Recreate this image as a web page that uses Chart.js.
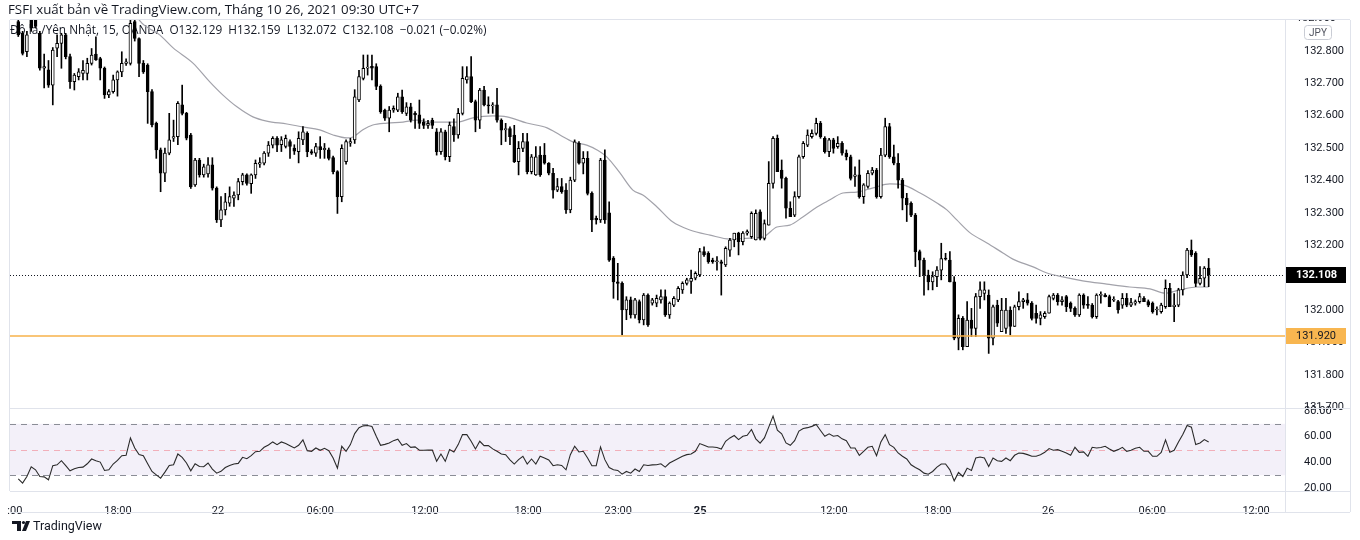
<!DOCTYPE html>
<html>
<head>
<meta charset="utf-8">
<script src="https://cdn.jsdelivr.net/npm/chart.js@4.4.1/dist/chart.umd.min.js"></script>
<style>
  html, body { margin: 0; padding: 0; background: #ffffff; }
  canvas { display: block; }
</style>
</head>
<body>
<canvas id="chart" width="1360" height="540"></canvas>
<script>
// USD/JPY 15 min candles (index 0 = first candle on the left)
const opens = [
  132.890,132.854,132.797,132.900,132.910,132.854,132.746,132.741,132.694,132.808,
  132.823,132.849,132.782,132.705,132.720,132.730,132.730,132.761,132.790,132.776,
  132.746,132.664,132.674,132.710,132.735,132.761,132.761,132.890,132.838,132.761,
  132.756,132.674,132.576,132.494,132.422,132.484,132.530,132.535,132.633,132.607,
  132.540,132.386,132.463,132.417,132.420,132.448,132.376,132.278,132.309,132.330,
  132.345,132.355,132.396,132.417,132.390,132.417,132.450,132.453,132.484,132.509,
  132.530,132.510,132.505,132.520,132.500,132.489,132.525,132.545,132.489,132.484,
  132.504,132.495,132.494,132.470,132.427,132.350,132.458,132.515,132.525,132.648,
  132.715,132.746,132.752,132.751,132.690,132.617,132.592,132.617,132.617,132.658,
  132.607,132.627,132.607,132.602,132.580,132.570,132.585,132.550,132.489,132.550,
  132.473,132.566,132.540,132.607,132.710,132.720,132.643,132.586,132.679,132.633,
  132.630,132.633,132.586,132.556,132.560,132.540,132.458,132.499,132.520,132.427,
  132.417,132.478,132.478,132.453,132.422,132.370,132.381,132.370,132.309,132.401,
  132.514,132.453,132.468,132.360,132.283,132.278,132.463,132.300,132.160,132.087,
  132.082,132.000,132.031,131.985,132.026,131.969,132.046,132.021,132.021,132.031,
  132.041,131.985,132.015,132.031,132.062,132.082,132.088,132.098,132.108,132.180,
  132.175,132.154,132.149,132.149,132.139,132.185,132.216,132.237,132.211,132.237,
  132.226,132.216,132.303,132.221,132.262,132.391,132.530,132.432,132.406,132.314,
  132.293,132.350,132.473,132.509,132.535,132.545,132.576,132.530,132.489,132.525,
  132.504,132.514,132.484,132.473,132.412,132.417,132.350,132.381,132.422,132.432,
  132.350,132.478,132.566,132.473,132.453,132.401,132.345,132.329,132.293,132.180,
  132.154,132.108,132.087,132.103,132.123,132.160,132.154,132.087,131.913,131.974,
  131.887,131.969,131.943,132.041,132.051,132.046,131.913,132.015,131.933,131.943,
  132.000,131.949,132.010,132.026,132.031,132.021,131.990,131.974,131.979,131.990,
  132.036,132.046,132.026,132.041,132.021,132.005,131.985,132.046,132.016,132.015,
  131.979,132.045,132.046,132.041,132.030,132.026,132.015,132.036,132.015,132.021,
  132.026,132.036,132.026,132.021,132.000,131.995,132.010,132.067,132.010,132.015,
  132.062,132.108,132.185,132.175,132.082,132.098,132.129
];
const highs = [
  132.930,132.860,132.860,132.940,132.930,132.860,132.790,132.770,132.810,132.849,
  132.854,132.854,132.790,132.730,132.745,132.770,132.777,132.807,132.843,132.780,
  132.750,132.680,132.725,132.738,132.797,132.775,132.920,132.920,132.840,132.770,
  132.760,132.680,132.580,132.500,132.500,132.607,132.586,132.643,132.694,132.610,
  132.545,132.468,132.468,132.450,132.470,132.470,132.380,132.350,132.360,132.380,
  132.365,132.406,132.422,132.420,132.420,132.463,132.470,132.489,132.520,132.535,
  132.535,132.535,132.540,132.525,132.510,132.550,132.566,132.550,132.495,132.514,
  132.535,132.514,132.500,132.475,132.430,132.510,132.525,132.530,132.680,132.740,
  132.787,132.787,132.787,132.760,132.695,132.620,132.628,132.630,132.669,132.679,
  132.640,132.638,132.612,132.648,132.590,132.585,132.592,132.560,132.560,132.555,
  132.580,132.590,132.622,132.751,132.751,132.782,132.648,132.684,132.690,132.658,
  132.640,132.684,132.590,132.576,132.565,132.570,132.520,132.545,132.545,132.480,
  132.504,132.504,132.514,132.455,132.437,132.406,132.406,132.390,132.410,132.525,
  132.520,132.489,132.489,132.365,132.290,132.468,132.494,132.334,132.165,132.144,
  132.087,132.041,132.040,132.036,132.031,132.051,132.050,132.036,132.046,132.062,
  132.062,132.025,132.041,132.072,132.087,132.098,132.123,132.118,132.190,132.195,
  132.180,132.160,132.165,132.154,132.195,132.221,132.237,132.240,132.242,132.247,
  132.303,132.309,132.309,132.278,132.458,132.535,132.540,132.463,132.410,132.334,
  132.365,132.478,132.520,132.556,132.556,132.592,132.582,132.535,132.530,132.530,
  132.535,132.520,132.494,132.478,132.442,132.463,132.390,132.430,132.440,132.437,
  132.499,132.592,132.576,132.509,132.483,132.406,132.360,132.334,132.298,132.185,
  132.160,132.123,132.118,132.134,132.206,132.175,132.180,132.103,131.985,131.980,
  132.026,132.005,132.051,132.087,132.087,132.062,132.015,132.030,132.036,132.036,
  132.010,132.015,132.056,132.036,132.051,132.026,132.015,131.995,131.995,132.046,
  132.051,132.051,132.041,132.045,132.025,132.010,132.050,132.050,132.041,132.020,
  132.050,132.056,132.051,132.046,132.041,132.030,132.051,132.051,132.036,132.031,
  132.051,132.041,132.031,132.025,132.010,132.021,132.093,132.082,132.051,132.067,
  132.118,132.190,132.216,132.180,132.134,132.134,132.159
];
const lows = [
  132.844,132.787,132.782,132.860,132.870,132.740,132.685,132.687,132.633,132.782,
  132.746,132.775,132.684,132.679,132.710,132.710,132.710,132.756,132.770,132.710,
  132.653,132.655,132.669,132.660,132.720,132.755,132.756,132.830,132.720,132.730,
  132.576,132.565,132.468,132.365,132.396,132.479,132.520,132.510,132.602,132.525,
  132.375,132.381,132.410,132.410,132.410,132.370,132.270,132.257,132.293,132.320,
  132.320,132.340,132.386,132.385,132.360,132.406,132.440,132.448,132.474,132.500,
  132.489,132.489,132.500,132.468,132.480,132.454,132.510,132.473,132.480,132.474,
  132.468,132.468,132.463,132.420,132.298,132.334,132.450,132.505,132.514,132.643,
  132.710,132.725,132.710,132.680,132.607,132.585,132.550,132.610,132.612,132.607,
  132.600,132.580,132.560,132.560,132.560,132.560,132.560,132.478,132.480,132.463,
  132.458,132.520,132.530,132.602,132.700,132.640,132.550,132.560,132.630,132.607,
  132.607,132.580,132.510,132.520,132.510,132.455,132.417,132.489,132.420,132.420,
  132.415,132.412,132.450,132.417,132.345,132.365,132.360,132.298,132.300,132.396,
  132.450,132.420,132.355,132.242,132.265,132.270,132.267,132.150,132.036,132.031,
  131.923,131.970,131.975,131.975,131.960,131.954,131.949,132.015,132.010,132.021,
  131.980,131.974,132.010,132.026,132.051,132.077,132.051,132.093,132.103,132.165,
  132.144,132.144,132.123,132.046,132.134,132.165,132.195,132.170,132.201,132.231,
  132.221,132.216,132.216,132.216,132.262,132.376,132.427,132.376,132.283,132.288,
  132.288,132.345,132.468,132.504,132.530,132.540,132.530,132.484,132.473,132.484,
  132.499,132.478,132.463,132.401,132.381,132.345,132.329,132.376,132.417,132.345,
  132.345,132.473,132.468,132.448,132.376,132.309,132.273,132.288,132.134,132.103,
  132.046,132.062,132.062,132.072,132.093,132.154,132.087,131.908,131.877,131.877,
  131.887,131.918,131.918,132.005,132.031,131.866,131.892,131.949,131.933,131.928,
  131.923,131.949,132.000,132.005,132.015,131.969,131.959,131.954,131.974,131.990,
  132.031,132.015,132.015,131.995,131.995,131.980,131.980,132.005,132.005,131.975,
  131.974,132.021,132.040,132.010,132.026,131.990,132.005,132.010,132.010,132.015,
  132.021,132.026,132.010,131.990,131.985,131.990,132.005,132.010,131.964,132.010,
  132.046,132.100,132.165,132.072,132.077,132.072,132.072
];
const closes = [
  132.849,132.792,132.849,132.870,132.875,132.746,132.751,132.694,132.802,132.823,
  132.849,132.782,132.705,132.725,132.735,132.740,132.761,132.787,132.772,132.746,
  132.664,132.674,132.710,132.735,132.761,132.766,132.885,132.838,132.761,132.735,
  132.674,132.571,132.494,132.422,132.484,132.525,132.535,132.638,132.607,132.530,
  132.380,132.463,132.417,132.442,132.448,132.376,132.278,132.309,132.334,132.350,
  132.355,132.396,132.417,132.391,132.417,132.453,132.455,132.484,132.509,132.530,
  132.509,132.525,132.530,132.505,132.490,132.530,132.550,132.489,132.484,132.504,
  132.495,132.499,132.468,132.427,132.350,132.499,132.520,132.520,132.658,132.720,
  132.746,132.750,132.746,132.690,132.612,132.592,132.617,132.622,132.658,132.612,
  132.627,132.586,132.602,132.576,132.570,132.576,132.570,132.489,132.550,132.473,
  132.571,132.540,132.607,132.715,132.720,132.643,132.586,132.679,132.633,132.630,
  132.632,132.586,132.555,132.560,132.535,132.458,132.499,132.520,132.427,132.473,
  132.473,132.417,132.453,132.422,132.370,132.381,132.365,132.309,132.401,132.519,
  132.453,132.468,132.360,132.278,132.278,132.463,132.278,132.154,132.087,132.082,
  132.000,132.031,131.985,132.031,131.969,132.046,131.954,132.031,132.036,132.041,
  131.985,132.021,132.036,132.067,132.082,132.093,132.098,132.113,132.180,132.170,
  132.149,132.149,132.151,132.144,132.190,132.216,132.237,132.211,132.237,132.242,
  132.298,132.298,132.221,132.267,132.391,132.530,132.427,132.406,132.314,132.288,
  132.350,132.473,132.514,132.540,132.545,132.576,132.535,132.489,132.525,132.499,
  132.514,132.484,132.473,132.406,132.417,132.350,132.386,132.422,132.432,132.350,
  132.478,132.566,132.473,132.453,132.401,132.345,132.324,132.293,132.180,132.154,
  132.108,132.087,132.103,132.123,132.159,132.157,132.087,131.913,131.974,131.887,
  131.969,131.943,132.041,132.062,132.062,131.913,132.010,131.959,132.000,132.000,
  131.949,132.010,132.026,132.031,132.021,131.974,131.974,131.985,131.990,132.041,
  132.046,132.026,132.031,132.010,132.005,131.985,132.046,132.015,132.014,131.979,
  132.046,132.047,132.041,132.010,132.031,132.000,132.036,132.015,132.023,132.026,
  132.041,132.026,132.015,131.995,132.001,132.015,132.067,132.010,132.015,132.062,
  132.108,132.185,132.170,132.082,132.098,132.129,132.108
];

// moving average line, read at a few points (candle index, price)
const maIdx = [25.5,28.2,32.8,35.9,40.5,44.4,47.4,50.7,54.4,57.6,62.3,66.0,69.9,73.0,76.2,77.6,79.9,82.2,85.5,89.2,
  92.4,95.4,97.7,101.7,105.4,110.0,113.3,117.9,122.6,125.6,128.6,131.8,134.2,136.5,139.5,142.5,144.8,148.1,151.7,155.7,
  160.4,165.0,169.6,172.6,175.9,178.9,181.9,185.2,188.2,191.2,194.4,198.2,202.1,205.1,209.1,213.0,215.3,217.6,220.7,224.6,
  228.3,230.6,235.3,238.5,242.2,246.8,252.4,257.7,262.4,265.9,269.3,273.3,276.0];
const maVal = [132.960,132.892,132.849,132.809,132.762,132.704,132.664,132.627,132.596,132.583,132.574,132.565,132.556,132.540,132.531,132.534,132.556,132.571,132.577,132.580,
  132.586,132.580,132.580,132.580,132.593,132.599,132.596,132.577,132.562,132.540,132.519,132.509,132.494,132.472,132.423,132.370,132.355,132.318,132.272,132.247,
  132.231,132.219,132.222,132.225,132.256,132.262,132.287,132.318,132.340,132.361,132.364,132.377,132.389,132.386,132.361,132.330,132.309,132.278,132.238,132.207,
  132.176,132.157,132.133,132.114,132.102,132.090,132.080,132.071,132.065,132.052,132.062,132.071,132.071];

// RSI, one value per candle
const rsi = [
  27.2,23.8,29.0,36.6,34.2,29.0,28.7,26.4,37.4,38.1,41.3,37.4,33.4,35.0,36.0,36.3,38.9,42.6,41.3,40.2,
  33.7,34.2,38.7,41.5,45.2,45.5,59.0,51.2,46.0,45.2,38.9,32.9,30.3,27.7,32.4,37.6,38.1,46.5,43.9,39.5,
  33.4,38.9,36.8,36.6,39.5,34.8,31.6,33.0,36.0,37.6,38.7,39.2,43.9,42.8,45.2,48.3,48.6,51.7,53.5,55.9,
  53.8,55.9,54.6,53.0,51.2,53.3,57.5,49.1,48.6,51.2,49.4,50.9,49.1,43.4,35.5,52.5,48.6,53.8,62.4,66.9,
  68.4,68.7,67.9,60.3,53.3,54.0,55.1,56.9,58.0,53.3,54.6,51.7,52.0,49.4,49.4,49.5,49.6,40.8,46.5,40.8,
  49.9,48.1,53.8,61.6,61.6,56.4,50.4,56.4,53.0,53.0,50.5,48.6,46.5,46.0,42.0,38.7,42.1,44.7,38.7,42.6,
  38.7,44.7,43.4,41.8,37.4,38.1,37.6,34.2,46.0,52.5,48.1,48.6,43.4,37.4,37.4,52.0,42.1,36.0,34.2,33.7,
  30.8,32.9,31.6,34.8,32.9,38.1,37.6,38.0,38.1,38.9,36.3,39.5,41.3,43.0,44.7,46.0,46.5,48.6,54.6,53.3,
  52.0,52.0,51.5,50.4,56.4,59.0,60.9,57.7,60.3,61.1,65.6,58.3,54.9,59.0,67.4,76.0,65.0,62.2,55.1,53.3,
  56.9,64.3,66.3,67.0,68.0,69.5,64.8,60.3,62.2,60.3,60.9,58.3,56.9,51.2,51.2,45.5,48.6,51.7,52.5,45.2,
  55.9,61.6,53.8,51.7,47.3,44.7,42.6,38.1,36.0,34.2,31.6,30.8,32.9,36.3,38.7,38.7,34.2,25.6,32.1,29.0,
  35.5,33.7,43.4,44.2,43.4,36.8,43.4,41.3,40.8,43.4,41.3,45.5,47.3,47.0,46.0,44.7,44.7,46.0,47.8,50.7,
  49.4,49.9,48.6,47.3,45.5,51.7,47.8,48.1,44.7,51.7,51.2,51.5,52.5,50.4,48.6,49.9,51.7,48.6,49.4,51.0,
  51.7,48.6,48.6,44.7,44.7,47.8,57.5,47.8,49.4,55.9,61.6,68.7,67.4,53.8,55.1,57.7,55.9
];

// time axis labels and the candle index they sit on
const tickPos  = [-0.8, 23.1, 46.3, 70.0, 94.3, 118.2, 139.1, 158.1, 189.1, 213.2, 238.8, 262.9, 287.0];
const tickText = [':00', '18:00', '22', '06:00', '12:00', '18:00', '23:00', '25', '12:00', '18:00', '26', '06:00', '12:00'];

const levelPrice = 131.920;
const rsiLevels = [70, 50, 30];

const FONT = 'Roboto, "Noto Sans", sans-serif';
const HEAD_FONT = '"Open Sans", Roboto, sans-serif';
const idx = closes.map((_, i) => i);

const paneDecor = {
  id: 'paneDecor',
  beforeDatasetsDraw(chart) {
    const { ctx, chartArea: a, scales } = chart;
    const r = scales.rsi, y = scales.y;
    ctx.save();
    // RSI band
    const y70 = r.getPixelForValue(rsiLevels[0]);
    const y50 = r.getPixelForValue(rsiLevels[1]);
    const y30 = r.getPixelForValue(rsiLevels[2]);
    ctx.fillStyle = 'rgba(126,87,194,0.09)';
    ctx.fillRect(a.left, y70, a.right - a.left, y30 - y70);
    ctx.lineWidth = 1;
    ctx.setLineDash([6, 5]);
    ctx.strokeStyle = '#8a8d96';
    [y70, y30].forEach(py => {
      ctx.beginPath();
      ctx.moveTo(a.left, Math.round(py) + 0.5);
      ctx.lineTo(a.right, Math.round(py) + 0.5);
      ctx.stroke();
    });
    ctx.strokeStyle = 'rgba(242,54,69,0.35)';
    ctx.beginPath();
    ctx.moveTo(a.left, Math.round(y50) + 0.5);
    ctx.lineTo(a.right, Math.round(y50) + 0.5);
    ctx.stroke();

    // last price dotted line
    const py = Math.round(y.getPixelForValue(closes[closes.length - 1])) + 0.5;
    ctx.setLineDash([1, 2]);
    ctx.strokeStyle = '#131722';
    ctx.beginPath();
    ctx.moveTo(a.left, py);
    ctx.lineTo(a.right, py);
    ctx.stroke();
    ctx.setLineDash([]);

    // legend line (candles are drawn over it)
    ctx.fillStyle = '#131722';
    ctx.font = '11.8px ' + HEAD_FONT;
    ctx.textBaseline = 'middle';
    ctx.fillText('Đô la /Yên Nhật, 15, OANDA  O132.129  H132.159  L132.072  C132.108  \u22120.021 (\u22120.02%)', 10, 31);
    ctx.restore();
  },
  afterDatasetsDraw(chart) {
    const { ctx, chartArea: a, scales } = chart;
    const ly = scales.y.getPixelForValue(levelPrice);
    ctx.save();
    ctx.strokeStyle = '#f7b24a';
    ctx.lineWidth = 1.5;
    ctx.beginPath();
    ctx.moveTo(a.left, ly);
    ctx.lineTo(a.right, ly);
    ctx.stroke();
    ctx.restore();
  },
  afterDraw(chart) {
    const { ctx, chartArea: a, scales } = chart;
    const y = scales.y;
    ctx.save();
    // pane frames
    ctx.strokeStyle = '#e0e3eb';
    ctx.lineWidth = 1;
    ctx.beginPath();
    const sep = Math.round(y.bottom) + 0.5;
    ctx.moveTo(a.left - 0.5, a.top); ctx.lineTo(a.left - 0.5, a.bottom);
    ctx.moveTo(a.right + 0.5, a.top); ctx.lineTo(a.right + 0.5, 512);
    ctx.moveTo(1350.5, a.top); ctx.lineTo(1350.5, 512);
    ctx.moveTo(a.left, a.top - 0.5); ctx.lineTo(1350, a.top - 0.5);
    ctx.moveTo(a.left, sep); ctx.lineTo(1350, sep);
    ctx.moveTo(a.left, a.bottom + 0.5); ctx.lineTo(1350, a.bottom + 0.5);
    ctx.moveTo(a.left, 512.5); ctx.lineTo(1350, 512.5);
    ctx.stroke();

    // top label cut by the pane edge
    ctx.save();
    ctx.beginPath();
    ctx.rect(a.right + 1, a.top, 70, 12);
    ctx.clip();
    ctx.fillStyle = '#131722';
    ctx.font = '11px ' + FONT;
    ctx.textBaseline = 'middle';
    ctx.fillText('132.900', 1296, y.getPixelForValue(132.9));
    ctx.restore();

    // currency badge
    ctx.strokeStyle = '#c9ccd4';
    ctx.beginPath();
    ctx.roundRect(1304.5, 25.5, 27, 14, 3);
    ctx.fillStyle = '#ffffff';
    ctx.fill();
    ctx.stroke();
    ctx.fillStyle = '#50535e';
    ctx.font = '10px ' + FONT;
    ctx.textAlign = 'center';
    ctx.textBaseline = 'middle';
    ctx.fillText('JPY', 1318, 33);

    // price labels on the axis
    const last = closes[closes.length - 1];
    const pl = y.getPixelForValue(last);
    ctx.fillStyle = '#000000';
    ctx.fillRect(a.right + 1, Math.round(pl) - 8, 60, 16);
    ctx.fillStyle = '#ffffff';
    ctx.font = 'bold 11px ' + FONT;
    ctx.textAlign = 'left';
    ctx.fillText(last.toFixed(3), 1296, pl + 0.5);
    const ll = y.getPixelForValue(levelPrice);
    ctx.fillStyle = '#f8b650';
    ctx.fillRect(a.right + 1, Math.round(ll) - 8, 60, 16);
    ctx.fillStyle = '#131722';
    ctx.font = '11px ' + FONT;
    ctx.fillText(levelPrice.toFixed(3), 1296, ll + 0.5);

    // header
    ctx.fillStyle = '#131722';
    ctx.font = '13.3px ' + HEAD_FONT;
    ctx.fillText('FSFI xuất bản về TradingView.com, Tháng 10 26, 2021 09:30 UTC+7', 8, 10);

    // TradingView mark
    ctx.fillStyle = '#131722';
    ctx.fillRect(12, 521, 9, 3);
    ctx.fillRect(17, 521, 4, 10);
    ctx.beginPath();
    ctx.arc(23.5, 522.5, 1.6, 0, Math.PI * 2);
    ctx.fill();
    ctx.beginPath();
    ctx.moveTo(26, 521); ctx.lineTo(30, 521); ctx.lineTo(26, 531); ctx.lineTo(22, 531);
    ctx.closePath();
    ctx.fill();
    ctx.font = '12.5px ' + FONT;
    ctx.textBaseline = 'middle';
    ctx.fillText('TradingView', 33, 526.5);
    ctx.restore();
  }
};

new Chart(document.getElementById('chart').getContext('2d'), {
  type: 'bar',
  data: {
    datasets: [
      {
        label: 'body',
        data: idx.map(i => ({ x: i, y: [opens[i], closes[i]] })),
        yAxisID: 'y',
        backgroundColor: c => closes[c.dataIndex] >= opens[c.dataIndex] ? '#ffffff' : '#000000',
        borderColor: '#000000',
        borderWidth: 1,
        borderSkipped: false,
        barThickness: 3,
        minBarLength: 1,
        grouped: false,
        order: 0
      },
      {
        label: 'wick',
        data: idx.map(i => ({ x: i, y: [lows[i], highs[i]] })),
        yAxisID: 'y',
        backgroundColor: '#000000',
        borderWidth: 0,
        barThickness: 1,
        grouped: false,
        order: 1
      },
      {
        type: 'line',
        label: 'MA',
        data: maIdx.map((v, k) => ({ x: v, y: maVal[k] })),
        yAxisID: 'y',
        borderColor: '#a2a2aa',
        borderWidth: 1.2,
        pointRadius: 0,
        cubicInterpolationMode: 'monotone',
        order: 2
      },
      {
        type: 'line',
        label: 'RSI',
        data: idx.map(i => ({ x: i, y: rsi[i] })),
        yAxisID: 'rsi',
        borderColor: '#2a2a2a',
        borderWidth: 1.1,
        pointRadius: 0,
        order: 0
      }
    ]
  },
  options: {
    responsive: false,
    animation: false,
    layout: { padding: { left: 10, top: 20, right: 0, bottom: 0 } },
    plugins: { legend: { display: false }, tooltip: { enabled: false } },
    scales: {
      x: {
        type: 'linear',
        min: -1.92,
        max: 293.7,
        offset: false,
        grid: { display: false },
        border: { display: false },
        afterBuildTicks: s => { s.ticks = tickPos.map(v => ({ value: v })); },
        afterFit: s => { s.height = 49; },
        ticks: {
          autoSkip: false,
          maxRotation: 0,
          padding: 6,
          color: '#131722',
          font: c => ({ family: FONT, size: 11, weight: tickText[c.index] === '25' ? 'bold' : 'normal' }),
          callback: (v, i) => tickText[i]
        }
      },
      y: {
        type: 'linear',
        position: 'right',
        stack: 'panes',
        stackWeight: 388,
        min: 131.6975,
        max: 132.895,
        grid: { display: false },
        border: { display: false },
        afterFit: s => { s.width = 75; },
        ticks: {
          stepSize: 0.1,
          includeBounds: false,
          autoSkip: false,
          padding: 11,
          color: '#131722',
          font: { family: FONT, size: 11 },
          callback: v => v.toFixed(3)
        }
      },
      rsi: {
        type: 'linear',
        position: 'right',
        stack: 'panes',
        stackWeight: 83,
        min: 17.7,
        max: 82.3,
        grid: { display: false },
        border: { display: false },
        afterFit: s => { s.width = 75; },
        ticks: {
          stepSize: 20,
          includeBounds: false,
          autoSkip: false,
          padding: 11,
          color: '#131722',
          font: { family: FONT, size: 11 },
          callback: v => v.toFixed(2)
        }
      }
    }
  },
  plugins: [paneDecor]
});
</script>
</body>
</html>
